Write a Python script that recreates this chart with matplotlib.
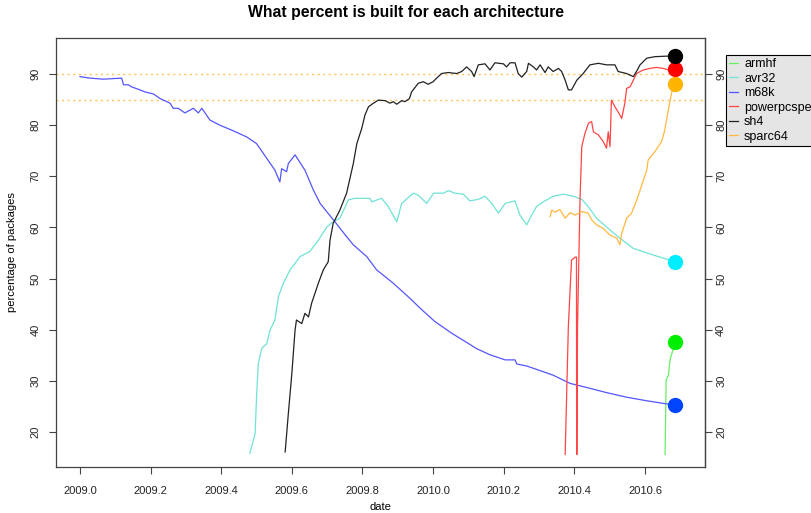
import matplotlib; matplotlib.use("Agg")
import matplotlib.pyplot as plt

plt.rcParams['font.family'] = ['Liberation Sans', 'DejaVu Sans']

# ---- data (decimal year, percent built) ----
m68k_x = [2009.000, 2009.028, 2009.066, 2009.118, 2009.123, 2009.137, 2009.146, 2009.170, 2009.184,
          2009.208, 2009.227, 2009.255, 2009.264, 2009.278, 2009.297, 2009.321, 2009.335, 2009.345,
          2009.368, 2009.396, 2009.434, 2009.472, 2009.500, 2009.529, 2009.552, 2009.566, 2009.571,
          2009.585, 2009.590, 2009.609, 2009.637, 2009.661, 2009.680, 2009.722, 2009.755, 2009.774,
          2009.812, 2009.840, 2009.887, 2009.935, 2009.968, 2010.005, 2010.053, 2010.100, 2010.123,
          2010.161, 2010.204, 2010.232, 2010.237, 2010.265, 2010.303, 2010.340, 2010.388, 2010.435,
          2010.491, 2010.548, 2010.605, 2010.661, 2010.685]
m68k_y = [89.5, 89.2, 89.0, 89.2, 87.9, 87.9, 87.5, 86.9, 86.5,
          86.1, 85.2, 84.3, 83.3, 83.3, 82.4, 83.3, 82.4, 83.3,
          81.0, 80.0, 78.9, 77.7, 76.4, 73.5, 71.2, 68.9, 71.5,
          70.9, 72.5, 74.2, 71.2, 67.3, 64.7, 61.1, 58.2, 56.6,
          54.3, 51.7, 49.1, 46.1, 43.9, 41.6, 39.3, 37.3, 36.3,
          35.1, 34.1, 34.1, 33.3, 32.9, 32.0, 31.1, 29.5, 28.7,
          27.7, 26.8, 26.1, 25.5, 25.3]

avr32_x = [2009.481, 2009.496, 2009.500, 2009.505, 2009.515, 2009.529, 2009.538, 2009.552, 2009.562,
           2009.576, 2009.595, 2009.623, 2009.651, 2009.675, 2009.699, 2009.717, 2009.736, 2009.760,
           2009.779, 2009.821, 2009.826, 2009.854, 2009.873, 2009.897, 2009.911, 2009.944, 2009.958,
           2009.982, 2010.001, 2010.029, 2010.043, 2010.062, 2010.086, 2010.104, 2010.128, 2010.147,
           2010.166, 2010.185, 2010.204, 2010.232, 2010.246, 2010.265, 2010.279, 2010.293, 2010.312,
           2010.340, 2010.369, 2010.397, 2010.421, 2010.439, 2010.463, 2010.501, 2010.529, 2010.567,
           2010.624, 2010.671, 2010.685]
avr32_y = [15.8, 19.7, 26.9, 33.4, 36.4, 37.3, 39.9, 41.9, 46.5,
           49.1, 51.7, 54.3, 55.3, 57.5, 60.1, 61.1, 61.8, 65.4,
           65.7, 65.7, 65.0, 65.7, 64.1, 61.1, 64.7, 66.7, 66.3,
           64.7, 66.7, 66.7, 67.2, 66.7, 66.5, 65.2, 65.5, 66.1,
           64.7, 62.8, 64.7, 65.2, 62.4, 60.5, 62.4, 64.1, 65.0,
           66.1, 66.5, 66.1, 65.5, 64.1, 61.8, 59.5, 57.9, 55.9,
           54.6, 53.6, 53.3]

sh4_x = [2009.581, 2009.590, 2009.600, 2009.609, 2009.613, 2009.628, 2009.637, 2009.647, 2009.656,
         2009.675, 2009.689, 2009.703, 2009.708, 2009.717, 2009.736, 2009.755, 2009.774, 2009.784,
         2009.798, 2009.807, 2009.817, 2009.831, 2009.845, 2009.864, 2009.878, 2009.887, 2009.897,
         2009.911, 2009.920, 2009.933, 2009.939, 2009.958, 2009.972, 2009.986, 2010.000, 2010.010,
         2010.024, 2010.043, 2010.067, 2010.081, 2010.095, 2010.109, 2010.116, 2010.128, 2010.147,
         2010.161, 2010.175, 2010.199, 2010.208, 2010.218, 2010.232, 2010.241, 2010.251, 2010.265,
         2010.270, 2010.284, 2010.293, 2010.303, 2010.317, 2010.326, 2010.340, 2010.355, 2010.364,
         2010.374, 2010.383, 2010.392, 2010.407, 2010.425, 2010.444, 2010.468, 2010.491, 2010.515,
         2010.524, 2010.548, 2010.567, 2010.576, 2010.586, 2010.605, 2010.628, 2010.661, 2010.685]
sh4_y = [16.1, 23.6, 31.5, 39.9, 41.9, 41.2, 43.2, 42.5, 45.2,
         49.1, 51.7, 53.3, 57.5, 60.8, 63.4, 66.7, 72.5, 76.4,
         79.4, 82.0, 83.6, 84.3, 84.9, 84.8, 84.3, 84.6, 84.1,
         84.8, 84.6, 85.2, 86.5, 88.2, 88.5, 88.0, 88.5, 89.2,
         90.1, 90.3, 90.1, 90.5, 91.4, 90.5, 89.5, 91.8, 92.0,
         90.8, 92.2, 92.0, 91.4, 92.2, 92.2, 90.1, 89.4, 90.5,
         92.1, 91.4, 90.8, 91.8, 90.3, 91.4, 90.5, 91.1, 90.5,
         88.8, 86.9, 86.9, 88.8, 90.1, 91.8, 92.1, 91.8, 91.8,
         90.5, 90.1, 89.5, 90.5, 91.8, 93.1, 93.4, 93.5, 93.5]

ppc_x = [2010.374, 2010.383, 2010.392, 2010.402, 2010.406, 2010.4065, 2010.4075, 2010.409, 2010.416,
         2010.421, 2010.430, 2010.440, 2010.449, 2010.454, 2010.468, 2010.482, 2010.491, 2010.496,
         2010.501, 2010.505, 2010.515, 2010.529, 2010.534, 2010.543, 2010.548, 2010.558, 2010.567,
         2010.576, 2010.595, 2010.614, 2010.633, 2010.652, 2010.666, 2010.685]
ppc_y = [15.6, 40.6, 53.6, 54.2, 54.2, 15.6, 15.6, 40.6, 65.4,
         75.8, 78.4, 80.4, 80.7, 78.7, 78.1, 76.8, 75.5, 78.7,
         75.8, 84.9, 83.6, 82.0, 81.3, 84.3, 87.2, 87.5, 88.8,
         90.1, 90.8, 91.1, 91.3, 91.1, 90.8, 90.9]

sparc_x = [2010.331, 2010.336, 2010.345, 2010.359, 2010.374, 2010.388, 2010.402, 2010.421, 2010.439,
           2010.449, 2010.463, 2010.482, 2010.501, 2010.520, 2010.529, 2010.534, 2010.548, 2010.562,
           2010.577, 2010.586, 2010.605, 2010.609, 2010.628, 2010.647, 2010.656, 2010.666, 2010.676,
           2010.685]
sparc_y = [62.1, 63.4, 63.0, 63.5, 61.8, 62.9, 62.4, 63.1, 62.8,
           61.5, 60.5, 59.8, 58.5, 57.9, 56.6, 58.8, 61.8, 62.8,
           65.4, 67.3, 71.2, 73.2, 74.8, 76.8, 79.0, 83.0, 86.5,
           88.0]

armhf_x = [2010.657, 2010.660, 2010.666, 2010.671, 2010.679, 2010.685]
armhf_y = [15.6, 30.2, 31.0, 34.1, 36.0, 37.5]

names = ["armhf", "avr32", "m68k", "powerpcspe", "sh4", "sparc64"]
xs = [armhf_x, avr32_x, m68k_x, ppc_x, sh4_x, sparc_x]
ys = [armhf_y, avr32_y, m68k_y, ppc_y, sh4_y, sparc_y]
line_cols = ["#66ee66", "#6fe3d5", "#5555ff", "#ff4545", "#222222", "#ffb840"]
dot_cols = ["#00ee00", "#00eeff", "#0044ff", "#ff0000", "#000000", "#ffb400"]
ref_lines = [90, 85]
xticks = [2009.0, 2009.2, 2009.4, 2009.6, 2009.8, 2010.0, 2010.2, 2010.4, 2010.6]
yticks = [20, 30, 40, 50, 60, 70, 80, 90]

W, H = 811, 513
fig = plt.figure(figsize=(W / 100, H / 100), dpi=100)
ax = fig.add_axes([56 / W, 1 - 467 / H, (705 - 56) / W, (467 - 38) / H])

for h in ref_lines:
    ax.axhline(h, color="#ffc45a", lw=1.0, ls=(0, (1.5, 2.5)), zorder=1)

handles = []
for n, x, y, lc, dc in zip(names, xs, ys, line_cols, dot_cols):
    ln, = ax.plot(x, y, "-", color=lc, lw=0.9, label=n, zorder=3)
    ax.plot(x[-1], y[-1], "o", color=dc, ms=10, mec=dc, zorder=5)
    handles.append(ln)

ax.set_xlim(2008.932, 2010.77)
ax.set_ylim(13.15, 97.05)
ax.set_xticks(xticks)
ax.set_xticklabels([f"{t:.1f}" for t in xticks])
ax.set_yticks(yticks)
tick_kw = dict(direction="out", length=5, width=0.8, color="#444444",
               labelsize=8, labelcolor="#222222")
ax.tick_params(axis="both", **tick_kw)
ax.tick_params(axis="x", pad=9)
ax.tick_params(axis="y", labelrotation=90, pad=6)
for lab in ax.get_yticklabels():
    lab.set_va("center")

# right-hand axis repeats the scale, closer to the frame
sec = ax.secondary_yaxis("right")
sec.set_yticks(yticks)
sec.tick_params(axis="y", labelrotation=90, pad=3, **tick_kw)
for lab in sec.get_yticklabels():
    lab.set_va("center")
sec.spines["right"].set_color("#444444")
sec.spines["right"].set_linewidth(0.9)

for s in ax.spines.values():
    s.set_color("#444444"); s.set_linewidth(0.9)

fig.text((56 + 705) / 2 / W, 1 - 507 / H, "date", ha="center", va="center", fontsize=8)
ax.set_ylabel("percentage of packages", fontsize=8, labelpad=10)
fig.text(0.5, 1 - 12 / H, "What percent is built for each architecture",
         ha="center", va="center", fontsize=11.3, fontweight="bold")

leg = fig.legend(handles=handles, labels=names, loc="upper left",
                 bbox_to_anchor=(726 / W, 1 - 55 / H), borderaxespad=0,
                 fontsize=9, handlelength=0.7, handletextpad=0.5, labelspacing=0.2,
                 borderpad=0.25, fancybox=False, framealpha=1, edgecolor="black")
leg.get_frame().set_facecolor("#e5e5e5")
leg.get_frame().set_linewidth(0.8)

fig.savefig("out.png", dpi=100)
